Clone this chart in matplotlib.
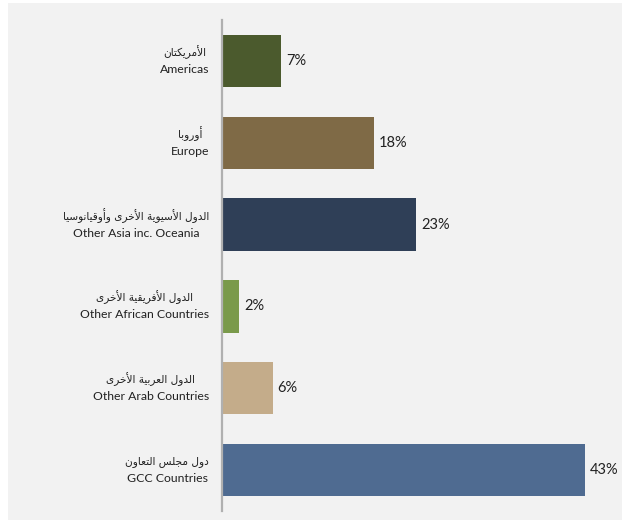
import matplotlib
matplotlib.use("Agg")
import matplotlib.pyplot as plt
from matplotlib.patches import Rectangle
from matplotlib.transforms import offset_copy

# categories, top to bottom
labels_ar = ["الأمريكتان", "أوروبا", "الدول الأسيوية الأخرى وأوقيانوسيا",
             "الدول الأفريقية الأخرى", "الدول العربية الأخرى", "دول مجلس التعاون"]
labels_en = ["Americas", "Europe", "Other Asia inc. Oceania",
             "Other African Countries", "Other Arab Countries", "GCC Countries"]
shares = [7, 18, 23, 2, 6, 43]
colors = ["#4b5a2d", "#7f6a46", "#2f3f57", "#7a9a4b", "#c4ac8a", "#4f6b91"]

# presentation forms: isolated, final, initial, medial
FORMS = {
    "\u0627": (0xFE8D, 0xFE8E, None, None),
    "\u0623": (0xFE83, 0xFE84, None, None),
    "\u0628": (0xFE8F, 0xFE90, 0xFE91, 0xFE92),
    "\u0629": (0xFE93, 0xFE94, None, None),
    "\u062A": (0xFE95, 0xFE96, 0xFE97, 0xFE98),
    "\u062C": (0xFE9D, 0xFE9E, 0xFE9F, 0xFEA0),
    "\u062E": (0xFEA5, 0xFEA6, 0xFEA7, 0xFEA8),
    "\u062F": (0xFEA9, 0xFEAA, None, None),
    "\u0631": (0xFEAD, 0xFEAE, None, None),
    "\u0633": (0xFEB1, 0xFEB2, 0xFEB3, 0xFEB4),
    "\u0639": (0xFEC9, 0xFECA, 0xFECB, 0xFECC),
    "\u0641": (0xFED1, 0xFED2, 0xFED3, 0xFED4),
    "\u0642": (0xFED5, 0xFED6, 0xFED7, 0xFED8),
    "\u0643": (0xFED9, 0xFEDA, 0xFEDB, 0xFEDC),
    "\u0644": (0xFEDD, 0xFEDE, 0xFEDF, 0xFEE0),
    "\u0645": (0xFEE1, 0xFEE2, 0xFEE3, 0xFEE4),
    "\u0646": (0xFEE5, 0xFEE6, 0xFEE7, 0xFEE8),
    "\u0648": (0xFEED, 0xFEEE, None, None),
    "\u0649": (0xFEEF, 0xFEF0, None, None),
    "\u064A": (0xFEF1, 0xFEF2, 0xFEF3, 0xFEF4),
}
LAM_ALEF = {"\u0627": (0xFEFB, 0xFEFC), "\u0623": (0xFEF7, 0xFEF8)}


def shape_arabic(s):
    """Join letters into contextual forms and flip to visual order."""
    out = []
    i = 0
    while i < len(s):
        c = s[i]
        if c not in FORMS:
            out.append(c)
            i += 1
            continue
        prev = s[i - 1] if i > 0 else ""
        prev_joins = prev in FORMS and FORMS[prev][2] is not None
        nxt = s[i + 1] if i + 1 < len(s) else ""
        if c == "\u0644" and nxt in LAM_ALEF:
            out.append(chr(LAM_ALEF[nxt][1 if prev_joins else 0]))
            i += 2
            continue
        next_joins = FORMS[c][2] is not None and nxt in FORMS
        iso, fin, ini, med = FORMS[c]
        if prev_joins and next_joins:
            code = med
        elif prev_joins:
            code = fin
        elif next_joins:
            code = ini
        else:
            code = iso
        out.append(chr(code))
        i += 1
    return "".join(reversed(out))


W, H = 622, 520
fig = plt.figure(figsize=(W / 100, H / 100), dpi=100, facecolor="white")
fig.patches.append(Rectangle((8 / W, 0), 1, (H - 3) / H, transform=fig.transFigure,
                             facecolor="#f2f2f2", edgecolor="none", zorder=-1))

ax = fig.add_axes([222 / W, 9 / H, 388 / W, 491 / H])
ax.set_facecolor("none")

y = list(range(len(shares)))
ax.barh(y, shares, height=0.64, color=colors, zorder=2)
for yi, v in zip(y, shares):
    ax.text(v + 0.6, yi, f"{v}%", va="center", ha="left", fontsize=10.5,
            family=["Lato", "DejaVu Sans"], color="#222222")

ax.set_xlim(0, 46)
ax.set_ylim(len(shares) - 0.5, -0.5)
ax.set_xticks([])
ax.set_yticks([])
for side in ["top", "right", "bottom"]:
    ax.spines[side].set_visible(False)
ax.spines["left"].set_color("#b0b0b0")
ax.spines["left"].set_linewidth(1.6)

# two-line category labels: Arabic above English, lines centred on each other,
# block right-aligned next to the axis
trans = ax.get_yaxis_transform()
renderer = fig.canvas.get_renderer()
gap_px = 13
for yi, ar, en in zip(y, labels_ar, labels_en):
    t_ar = ax.text(0, yi, shape_arabic(ar), ha="center", va="center", fontsize=7.6,
                   family="DejaVu Sans", color="#222222",
                   transform=offset_copy(trans, fig=fig, x=0, y=9, units="dots"))
    t_en = ax.text(0, yi, en, ha="center", va="baseline", fontsize=8.8,
                   family="Lato", color="#222222",
                   transform=offset_copy(trans, fig=fig, x=0, y=-12, units="dots"))
    w = max(t_ar.get_window_extent(renderer).width, t_en.get_window_extent(renderer).width)
    dx = -(gap_px + w / 2)
    t_ar.set_transform(offset_copy(trans, fig=fig, x=dx, y=9, units="dots"))
    t_en.set_transform(offset_copy(trans, fig=fig, x=dx, y=-12, units="dots"))

fig.savefig("out.png", dpi=100, facecolor=fig.get_facecolor())
